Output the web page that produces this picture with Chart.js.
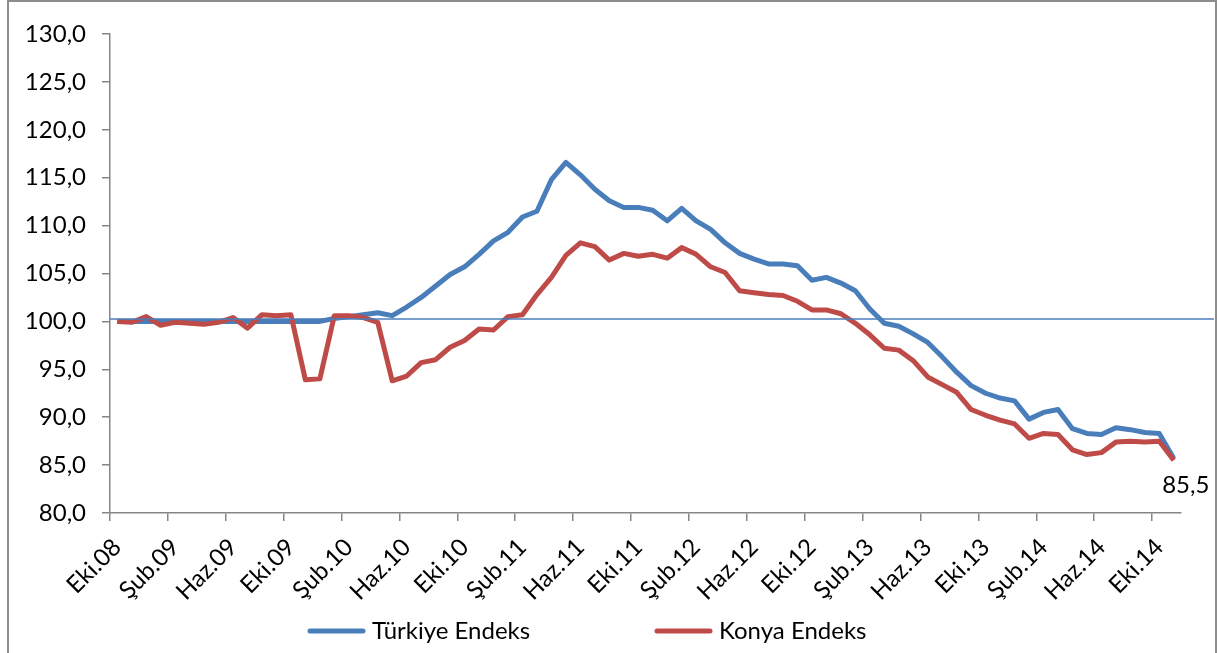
<!DOCTYPE html>
<html>
<head>
<meta charset="utf-8">
<title>Türkiye ve Konya Endeks</title>
<script src="https://cdn.jsdelivr.net/npm/chart.js@4.4.1/dist/chart.umd.min.js"></script>
<style>
  html, body { margin: 0; padding: 0; background: #fff; }
  canvas { display: block; }
</style>
</head>
<body>
<canvas id="endeksChart" width="1218" height="653"></canvas>
<script>
// Ay etiketleri (Eki.08 - Kas.14)
const months = [
    'Eki.08', 'Kas.08', 'Ara.08',
    'Oca.09', 'Şub.09', 'Mar.09', 'Nis.09', 'May.09', 'Haz.09', 'Tem.09', 'Ağu.09', 'Eyl.09', 'Eki.09', 'Kas.09', 'Ara.09',
    'Oca.10', 'Şub.10', 'Mar.10', 'Nis.10', 'May.10', 'Haz.10', 'Tem.10', 'Ağu.10', 'Eyl.10', 'Eki.10', 'Kas.10', 'Ara.10',
    'Oca.11', 'Şub.11', 'Mar.11', 'Nis.11', 'May.11', 'Haz.11', 'Tem.11', 'Ağu.11', 'Eyl.11', 'Eki.11', 'Kas.11', 'Ara.11',
    'Oca.12', 'Şub.12', 'Mar.12', 'Nis.12', 'May.12', 'Haz.12', 'Tem.12', 'Ağu.12', 'Eyl.12', 'Eki.12', 'Kas.12', 'Ara.12',
    'Oca.13', 'Şub.13', 'Mar.13', 'Nis.13', 'May.13', 'Haz.13', 'Tem.13', 'Ağu.13', 'Eyl.13', 'Eki.13', 'Kas.13', 'Ara.13',
    'Oca.14', 'Şub.14', 'Mar.14', 'Nis.14', 'May.14', 'Haz.14', 'Tem.14', 'Ağu.14', 'Eyl.14', 'Eki.14', 'Kas.14'
];

const turkiyeEndeks = [
    100.0, 100.0, 100.0, 100.0, 100.0, 100.0, 100.0, 100.0, 100.0, 100.0,
    100.0, 100.0, 100.0, 100.0, 100.0, 100.3, 100.5, 100.7, 100.9, 100.6,
    101.5, 102.5, 103.7, 104.9, 105.7, 107.0, 108.4, 109.3, 110.9, 111.5,
    114.8, 116.6, 115.3, 113.8, 112.6, 111.9, 111.9, 111.6, 110.5, 111.8,
    110.5, 109.6, 108.2, 107.1, 106.5, 106.0, 106.0, 105.8, 104.3, 104.6,
    104.0, 103.2, 101.3, 99.8, 99.5, 98.7, 97.8, 96.3, 94.7, 93.3,
    92.5, 92.0, 91.7, 89.8, 90.5, 90.8, 88.8, 88.3, 88.2, 88.9,
    88.7, 88.4, 88.3, 85.7
];

const konyaEndeks = [
    100.0, 99.9, 100.5, 99.6, 99.9, 99.8, 99.7, 99.9, 100.4, 99.3,
    100.7, 100.6, 100.7, 93.9, 94.0, 100.6, 100.6, 100.4, 99.9, 93.8,
    94.3, 95.7, 96.0, 97.3, 98.0, 99.2, 99.1, 100.5, 100.7, 102.8,
    104.6, 106.9, 108.2, 107.8, 106.4, 107.1, 106.8, 107.0, 106.6, 107.7,
    107.0, 105.7, 105.1, 103.2, 103.0, 102.8, 102.7, 102.1, 101.2, 101.2,
    100.8, 99.8, 98.6, 97.2, 97.0, 95.9, 94.2, 93.4, 92.6, 90.8,
    90.2, 89.7, 89.3, 87.8, 88.3, 88.2, 86.6, 86.1, 86.3, 87.4,
    87.5, 87.4, 87.5, 85.5
];

const baseLine = 100.25;     // grafik üzerindeki yatay çizgi
const yMin = 80, yMax = 130, yStep = 5;
const labelEvery = 4;

const fontFamily = 'Lato, "Open Sans", sans-serif';
const fontSize = 24;
const axisGray = '#868686';

// çerçeve, yatay çizgi, son değer etiketi ve lejant
const extrasPlugin = {
    id: 'extras',
    beforeDraw(chart) {
        const ctx = chart.ctx;
        ctx.save();
        ctx.fillStyle = '#fff';
        ctx.fillRect(0, 0, chart.width, chart.height);
        ctx.restore();
    },
    afterDatasetsDraw(chart) {
        const ctx = chart.ctx;
        const y = chart.scales.y.getPixelForValue(baseLine);
        ctx.save();
        ctx.strokeStyle = '#4a7ebb';
        ctx.lineWidth = 1.6;
        ctx.beginPath();
        ctx.moveTo(chart.chartArea.left, y);
        ctx.lineTo(chart.width - 4, y);
        ctx.stroke();

        // son değer etiketi (Konya)
        const meta = chart.getDatasetMeta(1);
        const last = meta.data[meta.data.length - 1];
        const val = konyaEndeks[konyaEndeks.length - 1];
        ctx.fillStyle = '#000';
        ctx.font = fontSize + 'px ' + fontFamily;
        ctx.textAlign = 'center';
        ctx.textBaseline = 'middle';
        ctx.fillText(val.toFixed(1).replace('.', ','), last.x + 12, last.y + 25);
        ctx.restore();
    },
    afterDraw(chart) {
        const ctx = chart.ctx;
        ctx.save();
        // lejant
        const legendY = 631;
        let x = 308;
        ctx.font = fontSize + 'px ' + fontFamily;
        ctx.textBaseline = 'middle';
        ctx.textAlign = 'left';
        chart.data.datasets.forEach(ds => {
            ctx.strokeStyle = ds.borderColor;
            ctx.lineWidth = 5;
            ctx.lineCap = 'round';
            ctx.beginPath();
            ctx.moveTo(x + 2, legendY);
            ctx.lineTo(x + 55, legendY);
            ctx.stroke();
            ctx.fillStyle = '#000';
            ctx.fillText(ds.label, x + 64, legendY);
            x = 655;
        });
        // dış çerçeve
        ctx.strokeStyle = '#8c8c8c';
        ctx.lineWidth = 2;
        ctx.strokeRect(8, 1, chart.width - 10, chart.height + 20);
        ctx.restore();
    }
};

new Chart(document.getElementById('endeksChart').getContext('2d'), {
    type: 'line',
    data: {
        labels: months,
        datasets: [{
            label: 'Türkiye Endeks',
            data: turkiyeEndeks,
            borderColor: '#4a7ebb',
            borderWidth: 5,
            pointRadius: 0,
            tension: 0,
            borderJoinStyle: 'round',
            order: 1
        }, {
            label: 'Konya Endeks',
            data: konyaEndeks,
            borderColor: '#be4b48',
            borderWidth: 5,
            pointRadius: 0,
            tension: 0,
            borderJoinStyle: 'round',
            order: 0
        }]
    },
    options: {
        responsive: false,
        animation: false,
        layout: { padding: { top: 34, right: 37, bottom: 0, left: 0 } },
        plugins: {
            legend: { display: false },
            tooltip: { enabled: false }
        },
        scales: {
            x: {
                offset: true,
                grid: {
                    offset: true,
                    drawOnChartArea: false,
                    tickLength: 8,
                    lineWidth: 1.5,
                    color: c => (c.index % labelEvery === 0 ? axisGray : 'rgba(0,0,0,0)')
                },
                border: { color: axisGray, width: 1.5 },
                ticks: {
                    autoSkip: false,
                    maxRotation: 45,
                    minRotation: 45,
                    padding: 12,
                    color: '#000',
                    font: { family: fontFamily, size: fontSize },
                    callback: (v, i) => (i % labelEvery === 0 ? months[i] : '')
                },
                afterFit: s => { s.height = 140; }
            },
            y: {
                min: yMin,
                max: yMax,
                grid: {
                    drawOnChartArea: false,
                    tickLength: 8,
                    lineWidth: 1.5,
                    color: axisGray
                },
                border: { color: axisGray, width: 1.5 },
                ticks: {
                    stepSize: yStep,
                    padding: 16,
                    color: '#000',
                    font: { family: fontFamily, size: fontSize },
                    callback: v => v.toFixed(1).replace('.', ',')
                },
                afterFit: s => { s.width = 110; }
            }
        }
    },
    plugins: [extrasPlugin]
});
</script>
</body>
</html>
